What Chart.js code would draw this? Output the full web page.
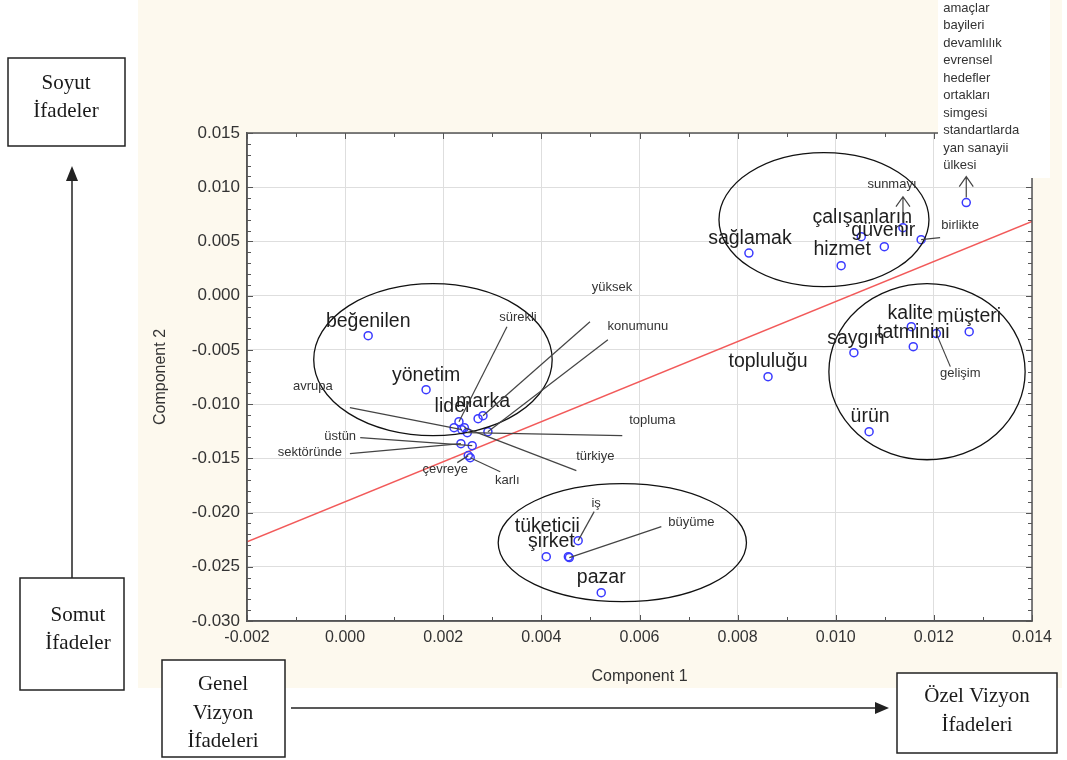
<!DOCTYPE html>
<html>
<head>
<meta charset="utf-8">
<script src="https://cdn.jsdelivr.net/npm/chart.js@4.4.1/dist/chart.umd.min.js"></script>
<style>
    html, body { margin: 0; padding: 0; background: #ffffff; }
    #wrap { width: 1067px; height: 760px; position: relative; }
</style>
</head>
<body>
<div id="wrap"><canvas id="mdsChart" width="1067" height="760"></canvas></div>
<script>
// ================= Data =================
const words = [
    "beğenilen", "yönetim", "lider", "marka", "yüksek", "sürekli", "konumunu", "topluma",
    "türkiye", "avrupa", "üstün", "sektöründe", "karlı", "çevreye",
    "sağlamak", "hizmet", "çalışanların", "güvenir", "sunmayı", "birlikte", "ülkesi",
    "müşteri", "kalite", "tatminini", "gelişim", "saygın", "topluluğu", "ürün",
    "iş", "tüketicii", "şirket", "büyüme", "pazar"
];
const comp1 = [
    0.00047, 0.00165, 0.00222, 0.00271, 0.00281, 0.00232, 0.00291, 0.00249,
    0.00243, 0.00238, 0.00259, 0.00236, 0.00255, 0.00251,
    0.00823, 0.01011, 0.01052, 0.01099, 0.01137, 0.01174, 0.01266,
    0.01272, 0.01154, 0.01158, 0.01205, 0.01037, 0.00862, 0.01068,
    0.00475, 0.00410, 0.00455, 0.00457, 0.00522
];
const comp2 = [
    -0.00369, -0.00867, -0.01217, -0.01134, -0.01107, -0.01162, -0.01254, -0.01263,
    -0.01217, -0.01236, -0.01383, -0.01365, -0.01494, -0.01475,
    0.00393, 0.00277, 0.00544, 0.00452, 0.00627, 0.00516, 0.00858,
    -0.00332, -0.00286, -0.00470, -0.00350, -0.00526, -0.00747, -0.01254,
    -0.02259, -0.02407, -0.02407, -0.02415, -0.02739
];
// words sharing the point "ülkesi"
const stackedWords = ["amaçlar", "bayileri", "devamlılık", "evrensel", "hedefler",
    "ortakları", "simgesi", "standartlarda", "yan sanayii", "ülkesi"];

const fitLineX = [-0.002, 0.014];
const fitLineY = [-0.0227, 0.00685];

const xTickValues = [-0.002, 0.000, 0.002, 0.004, 0.006, 0.008, 0.010, 0.012, 0.014];
const yTickValues = [-0.030, -0.025, -0.020, -0.015, -0.010, -0.005, 0.000, 0.005, 0.010, 0.015];

// groups circled on the map (centre and radius in component units)
const groupCx = [0.00179, 0.00976, 0.01186, 0.00565];
const groupCy = [-0.0059, 0.00701, -0.00701, -0.02278];
const groupRx = [0.00243, 0.00214, 0.00200, 0.00253];
const groupRy = [0.00701, 0.00618, 0.00812, 0.00544];

// ================= Label layout (pixels from the point) =================
// t = label centre, l = end of leader line, big = large font
const labelLayout = {
    "beğenilen": { t: [0, -14], big: true },
    "yönetim": { t: [0, -14], big: true },
    "lider": { t: [-1, -21], big: true },
    "marka": { t: [5, -17], big: true },
    "yüksek": { t: [129, -128], l: [107, -94] },
    "sürekli": { t: [59, -104], l: [48, -95] },
    "konumunu": { t: [150, -105], l: [120, -92] },
    "topluma": { t: [185, -12], l: [155, 3] },
    "türkiye": { t: [131, 29], l: [112, 43] },
    "avrupa": { t: [-149, -43], l: [-112, -22] },
    "üstün": { t: [-132, -9], l: [-112, -8] },
    "sektöründe": { t: [-151, 9], l: [-111, 10] },
    "karlı": { t: [37, 23], l: [30, 14] },
    "çevreye": { t: [-23, 14], l: [-11, 7] },
    "sağlamak": { t: [1, -14], big: true },
    "hizmet": { t: [1, -16], big: true },
    "çalışanların": { t: [1, -19], big: true },
    "güvenir": { t: [-1, -16], big: true },
    "sunmayı": { t: [-11, -43], arrow: [0, -31] },
    "birlikte": { t: [39, -14], l: [19, -2] },
    "ülkesi": { stack: [-23, -37], arrow: [0, -26] },
    "müşteri": { t: [0, -15], big: true },
    "kalite": { t: [-1, -13], big: true },
    "tatminini": { t: [0, -14], big: true },
    "gelişim": { t: [24, 40], l: [14, 33] },
    "saygın": { t: [2, -14], big: true },
    "topluluğu": { t: [0, -15], big: true },
    "ürün": { t: [1, -15], big: true },
    "iş": { t: [18, -37], l: [16, -29] },
    "tüketicii": { t: [1, -30], big: true },
    "şirket": { t: [-17, -15], big: true },
    "büyüme": { t: [122, -35], l: [92, -31] },
    "pazar": { t: [0, -15], big: true }
};

const SANS = "'Liberation Sans', Arial, sans-serif";
const SERIF = "'Liberation Serif', 'Times New Roman', serif";

function fmt(v) {
    if (Math.abs(v) < 1e-9) v = 0;
    return v.toFixed(3);
}

function arrowUp(ctx, x, y0, y1) {
    ctx.beginPath();
    ctx.moveTo(x, y0);
    ctx.lineTo(x, y1);
    ctx.moveTo(x - 7, y1 + 10);
    ctx.lineTo(x, y1);
    ctx.lineTo(x + 7, y1 + 10);
    ctx.stroke();
}

// ================= Background =================
const backgroundPlugin = {
    id: "backgroundPlugin",
    beforeDraw(chart) {
        const ctx = chart.ctx;
        const a = chart.chartArea;
        ctx.save();
        ctx.fillStyle = "#ffffff";
        ctx.fillRect(0, 0, chart.width, chart.height);
        ctx.fillStyle = "#fdf9ee";
        ctx.fillRect(138, 0, 924, 688);
        ctx.fillStyle = "#ffffff";
        ctx.fillRect(a.left, a.top, a.right - a.left, a.bottom - a.top);
        ctx.restore();
    }
};

// ================= Frame, groups, labels =================
const annotationPlugin = {
    id: "annotationPlugin",
    afterDatasetsDraw(chart) {
        const ctx = chart.ctx;
        const xs = chart.scales.x;
        const ys = chart.scales.y;
        const a = chart.chartArea;
        ctx.save();

        // frame + minor ticks
        ctx.strokeStyle = "#555555";
        ctx.lineWidth = 1.5;
        ctx.strokeRect(a.left, a.top, a.right - a.left, a.bottom - a.top);
        ctx.lineWidth = 1;
        ctx.beginPath();
        for (let i = 0; i <= 16; i++) {
            const px = Math.round(xs.getPixelForValue(-0.002 + i * 0.001)) + 0.5;
            const len = i % 2 === 0 ? 6 : 4;
            ctx.moveTo(px, a.bottom); ctx.lineTo(px, a.bottom - len);
            ctx.moveTo(px, a.top); ctx.lineTo(px, a.top + len);
        }
        for (let i = 0; i <= 45; i++) {
            const py = Math.round(ys.getPixelForValue(-0.030 + i * 0.001)) + 0.5;
            const len = i % 5 === 0 ? 6 : 4;
            ctx.moveTo(a.left, py); ctx.lineTo(a.left + len, py);
            ctx.moveTo(a.right, py); ctx.lineTo(a.right - len, py);
        }
        ctx.stroke();

        // white patch behind the stacked word list
        ctx.fillStyle = "#ffffff";
        ctx.fillRect(938, 0, 112, 178);

        // circled groups
        ctx.strokeStyle = "#111111";
        ctx.lineWidth = 1.3;
        groupCx.forEach((cx, i) => {
            const px = xs.getPixelForValue(cx);
            const py = ys.getPixelForValue(groupCy[i]);
            const rx = Math.abs(xs.getPixelForValue(cx + groupRx[i]) - px);
            const ry = Math.abs(ys.getPixelForValue(groupCy[i] + groupRy[i]) - py);
            ctx.beginPath();
            ctx.ellipse(px, py, rx, ry, 0, 0, Math.PI * 2);
            ctx.stroke();
        });

        // labels
        ctx.textAlign = "center";
        ctx.textBaseline = "middle";
        words.forEach((w, i) => {
            const lay = labelLayout[w];
            if (!lay) return;
            const px = xs.getPixelForValue(comp1[i]);
            const py = ys.getPixelForValue(comp2[i]);

            ctx.strokeStyle = "#444444";
            ctx.lineWidth = 1.2;
            if (lay.l) {
                ctx.beginPath();
                ctx.moveTo(px, py);
                ctx.lineTo(px + lay.l[0], py + lay.l[1]);
                ctx.stroke();
            }
            if (lay.arrow) {
                arrowUp(ctx, px + lay.arrow[0], py - 5, py + lay.arrow[1]);
            }

            if (lay.stack) {
                ctx.fillStyle = "#333333";
                ctx.font = "13px " + SANS;
                ctx.textAlign = "left";
                const n = stackedWords.length;
                stackedWords.forEach((s, k) => {
                    ctx.fillText(s, px + lay.stack[0], py + lay.stack[1] - (n - 1 - k) * 17.5);
                });
                ctx.textAlign = "center";
                return;
            }
            if (lay.big) {
                ctx.fillStyle = "#1e1e1e";
                ctx.font = "19.5px " + SANS;
            } else {
                ctx.fillStyle = "#333333";
                ctx.font = "13px " + SANS;
            }
            ctx.fillText(w, px + lay.t[0], py + lay.t[1]);
        });
        ctx.restore();
    },

    // ================= Outer boxes and arrows =================
    afterDraw(chart) {
        const ctx = chart.ctx;
        ctx.save();
        ctx.strokeStyle = "#222222";
        ctx.fillStyle = "#222222";
        ctx.lineWidth = 1.5;

        const boxes = [
            { x: 8, y: 58, w: 117, h: 88, lines: ["Soyut", "İfadeler"], ty: [83, 111], tx: 66 },
            { x: 20, y: 578, w: 104, h: 112, lines: ["Somut", "İfadeler"], ty: [615, 643], tx: 78 },
            { x: 162, y: 660, w: 123, h: 97, lines: ["Genel", "Vizyon", "İfadeleri"], ty: [684, 713, 741], tx: 223 },
            { x: 897, y: 673, w: 160, h: 80, lines: ["Özel Vizyon", "İfadeleri"], ty: [696, 725], tx: 977 }
        ];
        ctx.font = "21px " + SERIF;
        ctx.textAlign = "center";
        ctx.textBaseline = "middle";
        boxes.forEach(b => {
            ctx.fillStyle = "#ffffff";
            ctx.fillRect(b.x, b.y, b.w, b.h);
            ctx.strokeRect(b.x, b.y, b.w, b.h);
            ctx.fillStyle = "#1a1a1a";
            b.lines.forEach((t, k) => ctx.fillText(t, b.tx, b.ty[k]));
        });

        // vertical arrow
        ctx.fillStyle = "#222222";
        ctx.beginPath();
        ctx.moveTo(72, 578); ctx.lineTo(72, 178);
        ctx.stroke();
        ctx.beginPath();
        ctx.moveTo(72, 166); ctx.lineTo(66, 181); ctx.lineTo(78, 181); ctx.closePath();
        ctx.fill();

        // horizontal arrow
        ctx.beginPath();
        ctx.moveTo(291, 708); ctx.lineTo(878, 708);
        ctx.stroke();
        ctx.beginPath();
        ctx.moveTo(889, 708); ctx.lineTo(875, 702); ctx.lineTo(875, 714); ctx.closePath();
        ctx.fill();
        ctx.restore();
    }
};

// ================= Chart =================
const mdsChart = new Chart(document.getElementById("mdsChart"), {
    type: "scatter",
    data: {
        datasets: [{
            type: "scatter",
            data: comp1.map((x, i) => ({ x: x, y: comp2[i] })),
            pointStyle: "circle",
            pointRadius: 4,
            pointBorderWidth: 1.5,
            borderColor: "#3a3aff",
            backgroundColor: "rgba(0,0,0,0)",
            order: 0
        }, {
            type: "line",
            data: fitLineX.map((x, i) => ({ x: x, y: fitLineY[i] })),
            borderColor: "#f25a5a",
            borderWidth: 1.5,
            pointRadius: 0,
            fill: false,
            order: 1
        }]
    },
    options: {
        responsive: false,
        animation: false,
        layout: {
            padding: { left: 140, top: 133, right: 35, bottom: 72 }
        },
        plugins: {
            legend: { display: false },
            tooltip: { enabled: false }
        },
        scales: {
            x: {
                type: "linear",
                min: -0.002,
                max: 0.014,
                afterBuildTicks: (scale) => { scale.ticks = xTickValues.map(v => ({ value: v })); },
                afterFit: (scale) => { scale.height = 67; },
                ticks: {
                    callback: (v) => fmt(v),
                    color: "#333333",
                    font: { family: SANS, size: 16 },
                    padding: 7,
                    maxRotation: 0
                },
                grid: { color: "#dedede", drawTicks: false },
                border: { color: "#555555", width: 1.5 },
                title: {
                    display: true,
                    text: "Component 1",
                    color: "#333333",
                    font: { family: SANS, size: 16 },
                    padding: { top: 4, bottom: 2 }
                }
            },
            y: {
                type: "linear",
                min: -0.030,
                max: 0.015,
                afterBuildTicks: (scale) => { scale.ticks = yTickValues.map(v => ({ value: v })); },
                afterFit: (scale) => { scale.width = 107; },
                ticks: {
                    callback: (v) => fmt(v),
                    color: "#333333",
                    font: { family: SANS, size: 17 },
                    padding: 7
                },
                grid: { color: "#dedede", drawTicks: false },
                border: { color: "#555555", width: 1.5 },
                title: {
                    display: true,
                    text: "Component 2",
                    color: "#333333",
                    font: { family: SANS, size: 16 },
                    padding: { top: 11, bottom: 4 }
                }
            }
        }
    },
    plugins: [backgroundPlugin, annotationPlugin]
});
</script>
</body>
</html>
